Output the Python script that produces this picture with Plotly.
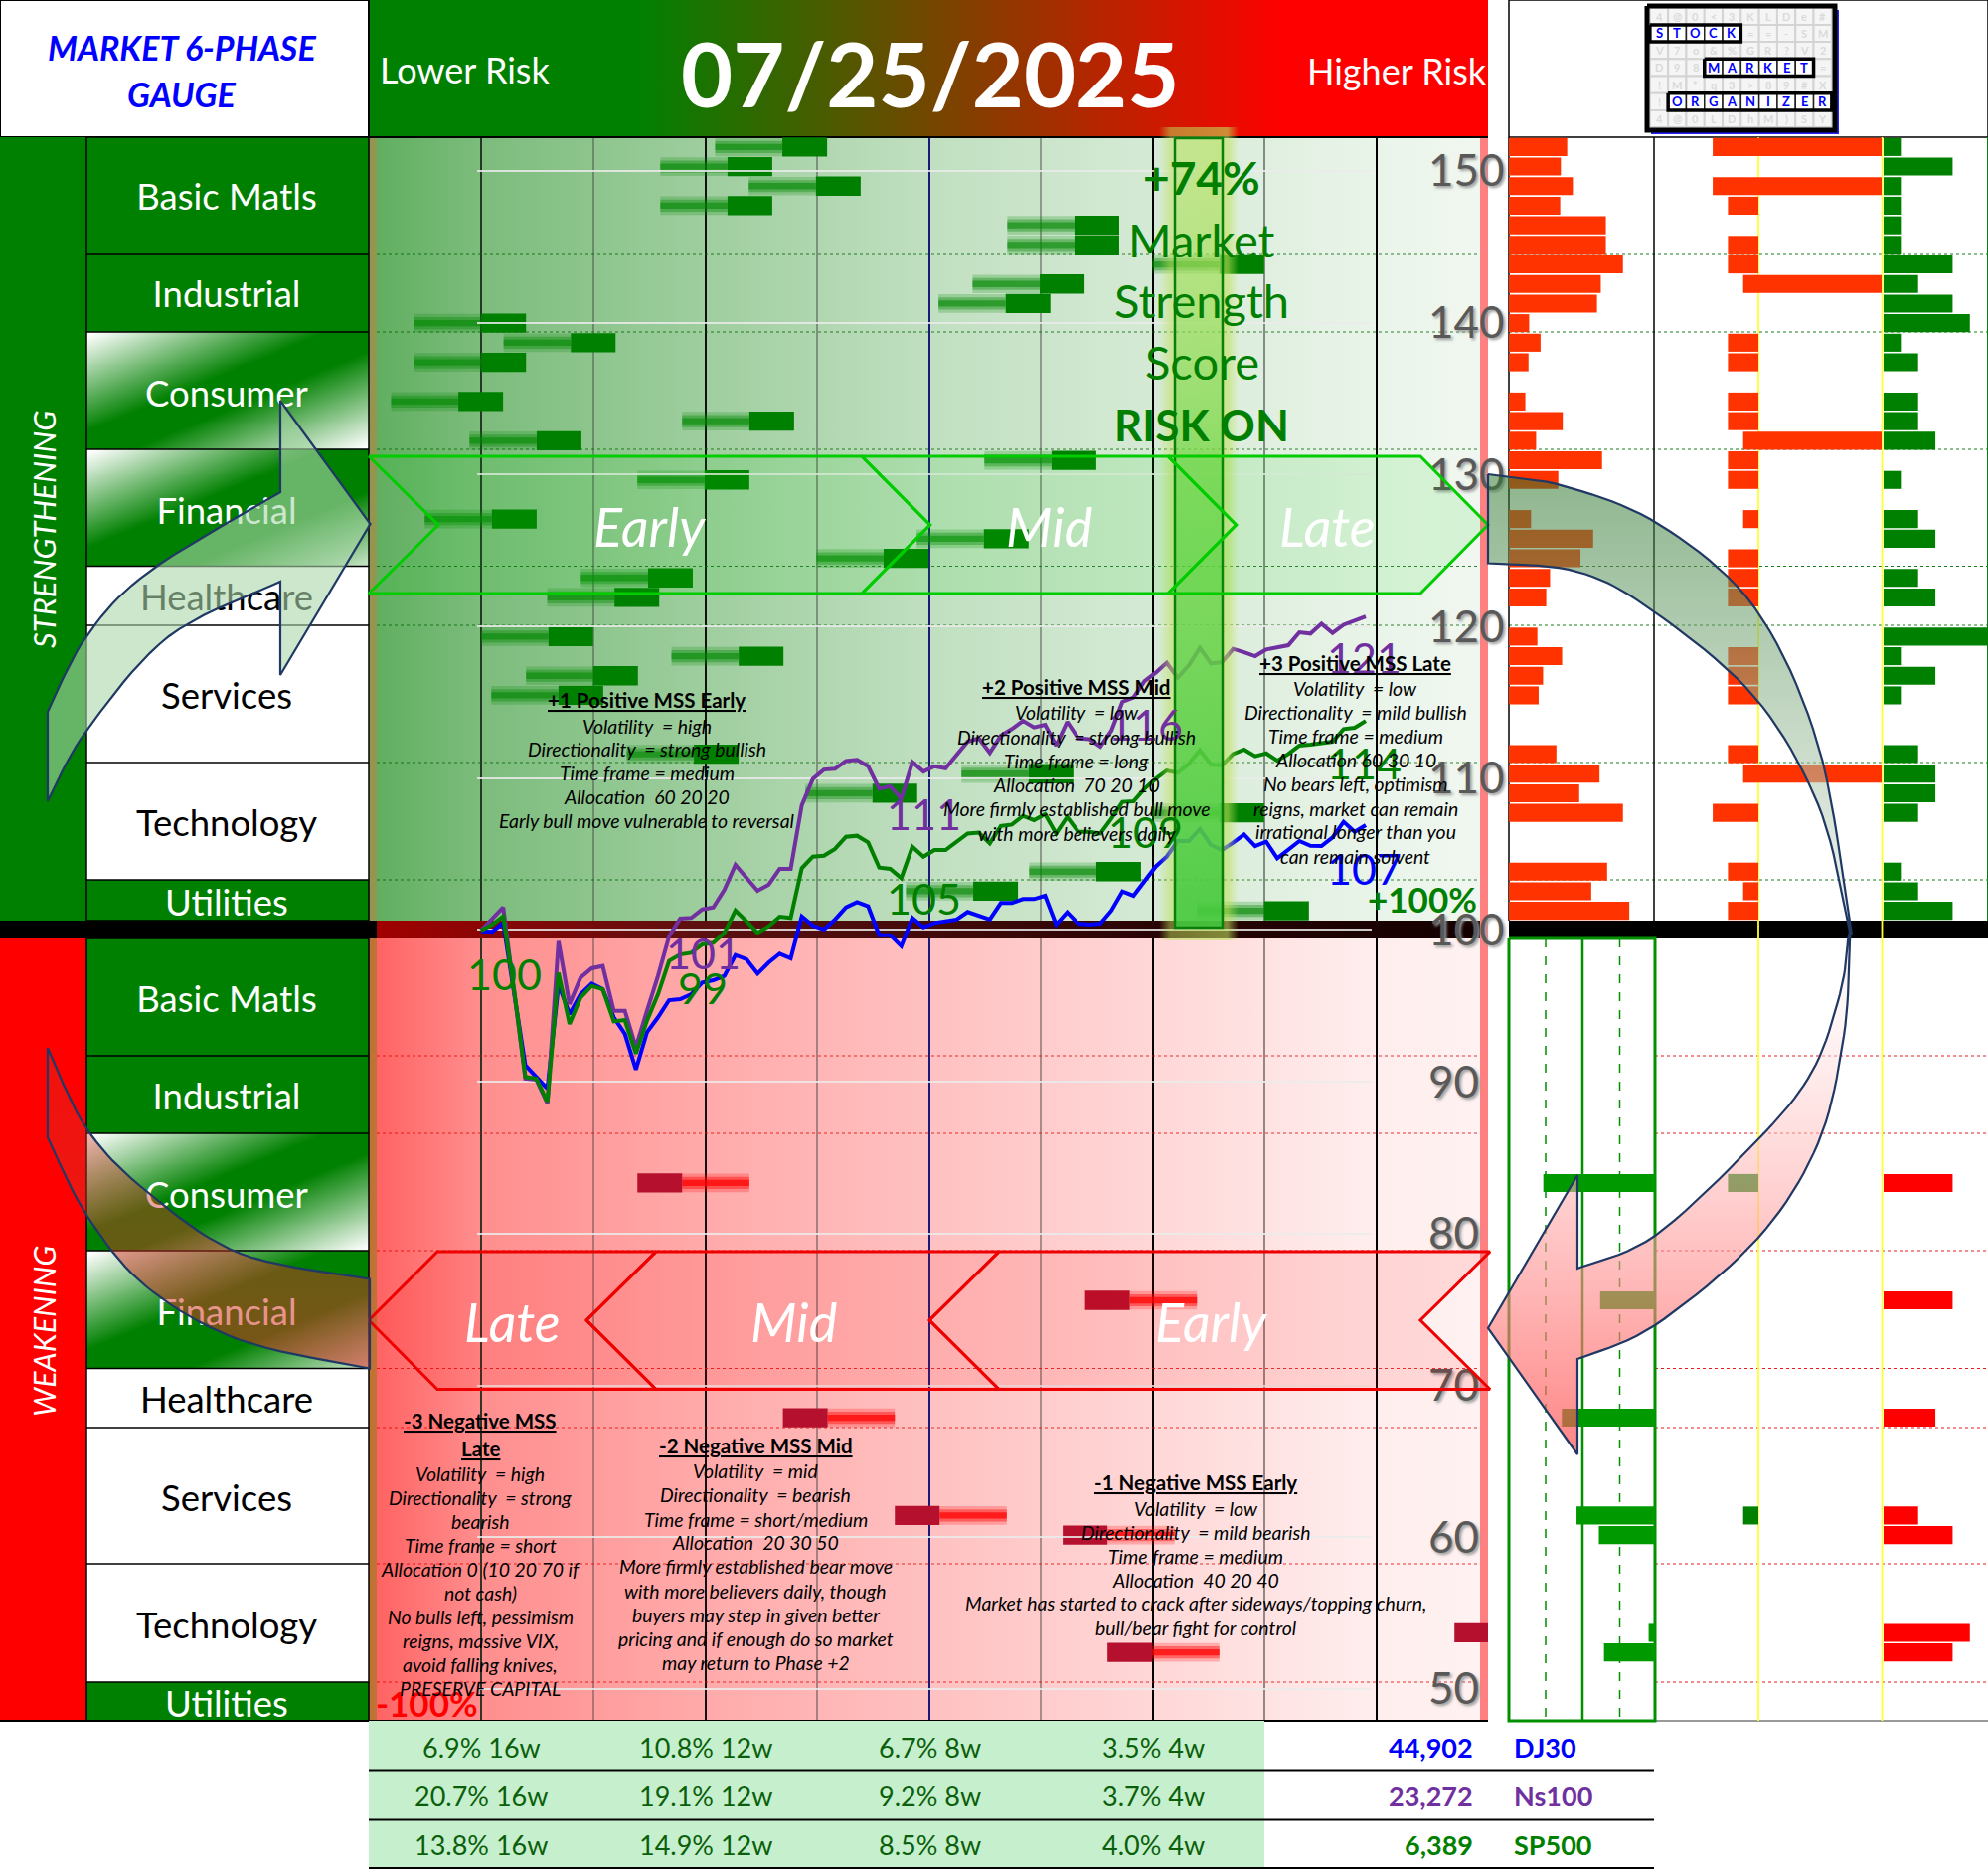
import numpy as np
import plotly.graph_objects as go

W, H = 2000, 1880
FONT = "Lato"

# ---------- line chart data ----------
dj30_values = [99.92,99.88,100.47,95.56,91.08,90.32,89.55,96.43,94.46,95.77,96.47,96.10,94.25,93.16,90.80,93.26,94.25,95.38,95.45,95.77,96.54,96.69,96.98,98.35,98.07,97.13,97.85,98.44,98.13,100.90,100.29,100.03,100.69,101.49,101.84,101.56,99.66,99.66,
98.94,100.80,100.18,100.47,100.58,100.69,101.19,100.95,100.69,101.78,101.78,102.04,102.04,102.26,100.36,101.17,100.42,100.36,100.42,101.28,102.54,102.26,103.20,104.18,104.83,105.86,105.86,106.65,105.60,105.27,105.75,106.30,105.53,105.82,104.73,105.27,105.86,105.55,105.53,106.10,107.13,106.47,106.91]
ns100_values = [99.97,100.75,101.49,95.88,90.21,90.14,88.57,99.27,95.12,96.87,97.48,97.63,94.68,94.68,92.28,94.68,96.98,99.59,100.75,100.80,101.36,101.49,102.65,104.29,103.41,102.59,102.98,104.03,104.03,108.22,109.96,110.57,110.62,111.14,111.21,110.79,109.31,109.48,
108.65,111.06,110.44,110.79,110.66,111.49,112.41,112.63,111.67,112.80,113.24,113.78,113.35,113.52,112.15,113.72,112.63,112.58,112.08,113.13,115.03,115.31,116.40,116.95,117.60,116.62,117.43,118.59,117.56,117.65,118.52,118.30,118.04,118.48,118.65,118.76,119.61,119.53,120.18,119.57,120.11,120.38,120.66]
sp500_values = [99.97,100.36,100.90,95.99,90.32,90.21,88.68,97.19,93.81,95.56,96.32,96.10,93.98,94.07,91.85,94.03,95.77,97.96,98.39,98.50,99.05,99.16,99.81,101.28,100.58,99.81,100.25,100.88,100.80,104.07,104.83,104.90,105.34,106.14,106.21,105.77,104.11,104.03,
103.42,105.49,104.83,105.27,105.27,105.82,106.36,106.41,105.71,106.86,106.95,107.52,107.24,107.63,106.36,107.45,106.47,106.47,106.36,107.34,108.44,108.48,109.31,109.96,110.51,110.36,110.95,111.86,110.90,110.84,111.60,111.89,111.45,111.64,111.16,111.60,112.15,112.21,112.30,112.41,113.24,113.33,113.78]
y_ticks = [150,140,130,120,110,100,90,80,70,60,50]

# ---------- sector panels ----------
sector_names = ["Basic Matls","Industrial","Consumer","Financial","Healthcare","Services","Technology","Utilities"]
# right end of each strengthening stock's block on the -100..+100 gauge, by row
strong_score = [-18.1,-27.9,-12.1,-27.9,34.1,34.1,60.0,27.9,21.8,-71.9,-55.9,-71.9,None,-76.0,-24.0,-62.0,30.0,-32.0,None,-70.0,17.9,0.0,-42.1,-48.1,None,-59.9,-25.9,-51.9,-58.1,None,None,-33.9,25.9,-2.0,60.0,None,None,38.0,16.0,68.0]
# left end of each weakening stock's block
weak_score = [None]*12+[-52.0]+[None]*5+[28.0]+[None]*5+[-26.0]+[None]*4+[-6.0,24.0]+[None]*4+[94.0,32.0]+[None]*3
p1_top = [92,82,101,81,153,153,180,145,139,32,50,31,None,26,85,43,147,78,None,35,133,113,65,59,None,45,84,54,47,None,None,75,143,111,180,None,None,155,130,190]
p1_bottom = [None]*12+[175]+[None]*5+[86]+[None]*5+[146]+[None]*4+[123,88]+[None]*4+[10,80]+[None]*3
colA_top = [3,None,3,2,None,2,2,1,None,None,2,2,None,2,2,1,2,2,None,1,None,2,2,2,None,None,2,2,2,None,None,2,1,None,3,None,None,2,1,2]
colA_bottom = [None]*12+[2]+[None]*16+[1]+[None]*10
colB_top = [1,None,1,None,None,None,None,1]+[None]*7+[1]+[None]*16+[1]+[None]*7
colC_top = [1,4,1,1,1,1,4,2,4,5,1,2,None,2,2,3,None,1,None,2,3,None,2,3,None,6.05,1,3,1,None,None,2,3,3,2,None,None,1,2,4]
colC_bottom = [None]*12+[4]+[None]*5+[4]+[None]*5+[3]+[None]*4+[2,4]+[None]*4+[5,4]+[None]*3

# ---------- table ----------
dj30_returns = ["6.9% 16w","10.8% 12w","6.7% 8w","3.5% 4w"]
ns100_returns = ["20.7% 16w","19.1% 12w","9.2% 8w","3.7% 4w"]
sp500_returns = ["13.8% 16w","14.9% 12w","8.5% 8w","4.0% 4w"]
index_prices = ["44,902","23,272","6,389"]
index_names = ["DJ30","Ns100","SP500"]

# ---------- logo letters ----------
logo_grid = ["4@0<3KLDe#", "     ==-SM", "V7o&%GR?V2", "D98      =", "!M*q3>89#X", "!         ", "4@0LDhM)SY"]
logo_words = {1: ("STOCK", 0), 3: ("MARKET", 3), 5: ("ORGANIZER", 1)}

BLUE, PURPLE, GREEN = "#0000FF", "#7030A0", "#007F00"

fig = go.Figure()
ann = []

def T(x, y, text, size=20, color="black", bold=False, italic=False, xa="center", ya="middle", family=FONT, shadow=None):
    f = dict(family=family, size=size, color=color, weight=700 if bold else 400, style="italic" if italic else "normal")
    if shadow:
        f["shadow"] = shadow
    ann.append(dict(x=x/W, y=1-y/H, xref="paper", yref="paper", text=text, showarrow=False, xanchor=xa, yanchor=ya, font=f, borderpad=0, borderwidth=0))

def poly(xs, ys, fill=None, grad=None, line=None, lw=0, ax="sheet", close=True):
    xa, ya = ("x", "y") if ax == "sheet" else ("x9", "y5")
    xs, ys = list(xs), list(ys)
    if close:
        xs, ys = xs+[xs[0]], ys+[ys[0]]
    kw = dict(x=xs, y=ys, mode="lines", xaxis=xa, yaxis=ya, hoverinfo="skip", showlegend=False,
              line=dict(color=line or "rgba(0,0,0,0)", width=lw))
    if grad:
        kw["fill"] = "toself"
        scale = grad[1]
        if grad[0] == "vertical":
            # the sheet's y axis runs downwards: stops are given top to bottom
            scale = [[1-p, c] for p, c in reversed(scale)]
        kw["fillgradient"] = dict(type=grad[0], colorscale=scale)
    elif fill:
        kw["fill"] = "toself"
        kw["fillcolor"] = fill
    fig.add_trace(go.Scatter(**kw))

def rect(x0, y0, x1, y1, **k):
    poly([x0, x1, x1, x0], [y0, y0, y1, y1], **k)

def seg(x0, y0, x1, y1, color="black", width=1, dash="solid", ax="sheet"):
    xa, ya = ("x", "y") if ax == "sheet" else ("x9", "y5")
    fig.add_trace(go.Scatter(x=[x0, x1], y=[y0, y1], mode="lines", xaxis=xa, yaxis=ya, hoverinfo="skip", showlegend=False,
                             line=dict(color=color, width=width, dash=dash)))

def sheet_text(x, y, text, size, color):
    fig.add_trace(go.Scatter(x=[x], y=[y], mode="text", text=[text], textposition="middle center", xaxis="x", yaxis="y",
                             hoverinfo="skip", showlegend=False, textfont=dict(family=FONT, size=size, color=color)))

def curve(pts, n=10):
    p = [pts[0]] + list(pts) + [pts[-1]]
    out = []
    for i in range(1, len(p)-2):
        p0, p1, p2, p3 = map(np.array, (p[i-1], p[i], p[i+1], p[i+2]))
        for t in np.linspace(0, 1, n, endpoint=False):
            out.append(0.5*((2*p1)+(-p0+p2)*t+(2*p0-5*p1+4*p2-p3)*t*t+(-p0+3*p1-3*p2+p3)*t**3))
    out.append(np.array(pts[-1]))
    return [float(a[0]) for a in out], [float(a[1]) for a in out]

def diag_cell(x0, y0, x1, y1, scale):
    xs = list(np.linspace(x0, x1, 41))
    ys = list(np.linspace(y0, y1, 41))
    u = np.linspace(0, 1, 40)
    z = [[(a+b)/2 for a in u] for b in u]
    fig.add_trace(go.Heatmap(x=xs, y=ys, z=z, zmin=0, zmax=1, colorscale=scale, showscale=False, zsmooth="best",
                             xaxis="x", yaxis="y", hoverinfo="skip"))

# ---------- sheet ----------
TOP, BOT = 138, 1731
BAND0, BAND1 = 926, 944
G = "#008000"
rect(371, 138, 1489, 926, grad=("horizontal", [[0, "#5FAE5F"], [0.1, "#7CBC7C"], [0.5, "#C0DFC0"], [0.9, "#E9F4E9"], [1, "#F0F7F0"]]))
rect(371, 944, 1489, 1731, grad=("horizontal", [[0, "#FF6060"], [0.1, "#FF8E8E"], [0.3, "#FFAAAA"], [0.5, "#FFC0C0"], [0.9, "#FFEDED"], [1, "#FFF2F2"]]))
rect(371, 138, 379, 926, fill="rgba(190,130,70,0.55)")
rect(371, 944, 379, 1731, fill="rgba(170,120,40,0.75)")
rect(1489, 138, 1497, 1731, fill="#FF8080")
rect(371, 0, 1497, 138, grad=("horizontal", [[0, G], [0.24, G], [0.82, "#FF0000"], [1, "#FF0000"]]))
rect(0, 0, 371, 138, fill="white", line="black", lw=2)
rect(0, 138, 87, 926, fill=G)
rect(0, 944, 87, 1731, fill="#FF0000")

edges_top = [138, 255, 334, 452, 569.5, 629, 767, 885, 926]
edges_bot = [944, 1062, 1140, 1258, 1376.5, 1436, 1573, 1692, 1731]
centers_top = [198, 295.5, 396, 514, 601, 700, 828, 908]
centers_bot = [1005, 1102.5, 1202, 1319.5, 1408, 1506.5, 1635, 1714]
scale_c = [[0, "#FFFFFF"], [0.42, G], [0.58, G], [1, "#FFFFFF"]]
scale_f = [[0, "#FFFFFF"], [0.42, G], [0.68, G], [1, "#C8E4C8"]]
for edges, centers in ((edges_top, centers_top), (edges_bot, centers_bot)):
    for i, name in enumerate(sector_names):
        a, b = edges[i], edges[i+1]
        if name == "Consumer":
            diag_cell(87, a, 371, b, scale_c)
        elif name == "Financial":
            diag_cell(87, a, 371, b, scale_f)
        elif name in ("Basic Matls", "Industrial", "Utilities"):
            rect(87, a, 371, b, fill=G)
        else:
            rect(87, a, 371, b, fill="white")
for edges, centers in ((edges_top, centers_top), (edges_bot, centers_bot)):
    for i, name in enumerate(sector_names):
        c = "black" if name in ("Healthcare", "Services", "Technology") else "white"
        sheet_text(228, centers[i]+4, name, 36.5, c)
        seg(87, edges[i], 371, edges[i], "black", 1.5)
    seg(87, edges[-1], 371, edges[-1], "black", 1.5)
    seg(87, edges[0], 87, edges[-1], "black", 1.5)
    seg(371, edges[0], 371, edges[-1], "black", 1.5)

# vertical guide lines of the gauge
vlines = [(484, "#1A2A1A", 1.8), (597, "rgba(60,60,60,0.55)", 1.5), (710, "#111111", 2), (822, "rgba(60,60,60,0.6)", 1.5),
          (935, "#1A1A7A", 2), (1047, "rgba(60,60,60,0.6)", 1.5), (1160, "black", 2), (1272, "rgba(50,50,50,0.7)", 1.5), (1385, "black", 2)]
for x, c, w in vlines:
    seg(x, TOP, x, BOT, c, w)
# row separators
for y in edges_top[1:-1]:
    seg(379, y, 1489, y, "rgba(0,100,0,0.8)", 1, "dot")
    seg(1518, y, 2000, y, "rgba(0,110,0,0.9)", 1, "dot")
for y in edges_bot[1:-1]:
    seg(379, y, 1489, y, "rgba(230,0,0,0.8)", 1, "dot")
    seg(1665, y, 2000, y, "rgba(230,0,0,0.9)", 1, "dot")
# centre band
rect(0, BAND0, 379, BAND1, fill="black")
rect(379, BAND0, 1489, BAND1, grad=("horizontal", [[0, "#A00000"], [0.3, "#5C1010"], [0.7, "#2A0404"], [1, "#140000"]]))
rect(1518, BAND0, 2000, BAND1, fill="black")
# frames
seg(371, TOP, 1497, TOP, "black", 2)
seg(371, BOT, 1497, BOT, "black", 2)
seg(0, BOT, 371, BOT, "black", 2)
rect(1518, 0, 2000, TOP, fill="white", line="black", lw=1.5)
seg(1518, TOP, 1518, BAND0, "black", 1.5)
seg(1664, TOP, 1664, BAND0, "black", 1.5)
seg(2000, TOP, 2000, BAND0, "#008000", 2)
seg(1665, BOT, 2000, BOT, "#999999", 2)
for x in (1769, 1893.5):
    seg(x, TOP, x, BOT, "#FFFF33", 1.8)
seg(1555, BAND1, 1555, BOT, "#009000", 1.5, "dash")
seg(1629.5, BAND1, 1629.5, BOT, "#009000", 1.5, "dash")
seg(1592, BAND1, 1592, BOT, "#009000", 2.5)
rect(1518, BAND1, 1665, BOT, line="#009000", lw=3)

# table backgrounds
for y0, y1 in ((1731, 1780), (1781, 1830), (1831, 1879)):
    rect(371, y0, 1272, y1, fill="#C6EFCE")
for y in (1780.5, 1830.5, 1879):
    seg(371, y, 1664, y, "black", 2)

# logo
cell_w, cell_h, lx0, ly0 = 18.3, 17.2, 1669, 16.3
rect(1661, 10, 1850, 135, fill="#2222FF")
rect(1657, 6, 1846, 131, fill="white")
for r, row in enumerate(logo_grid):
    for c, ch in enumerate(row):
        cx, cy = lx0+c*cell_w, ly0+r*cell_h
        rect(cx-cell_w/2, cy-cell_h/2, cx+cell_w/2, cy+cell_h/2, fill="#F5F5F5", line="#D4D4D4", lw=2)
        if ch != " ":
            T(cx, cy, ch, 11, "#DADADA", True)
for r, (word, c0) in logo_words.items():
    cy = ly0+r*cell_h
    for j, ch in enumerate(word):
        cx = lx0+(c0+j)*cell_w
        rect(cx-cell_w/2, cy-cell_h/2, cx+cell_w/2, cy+cell_h/2, fill="white", line="#222222", lw=1.5)
        T(cx, cy, ch, 13, "#0000FF", True)
    x0 = lx0+c0*cell_w-cell_w/2
    rect(x0, cy-cell_h/2, x0+len(word)*cell_w, cy+cell_h/2, line="black", lw=3.5)
rect(1657, 6, 1846, 131, line="black", lw=5)

# ---------- gauge blocks ----------
rows = list(range(40))
def row_bar(xa, ya, vals, color, base=None, width=0.92):
    yy = [r for r, v in zip(rows, vals) if v is not None]
    xx = [v for v in vals if v is not None]
    kw = {}
    if base is not None:
        kw["base"] = [b for b, v in zip(base, vals) if v is not None]
    fig.add_trace(go.Bar(x=xx, y=yy, orientation="h", xaxis=xa, yaxis=ya, width=width, hoverinfo="skip", showlegend=False,
                         marker=dict(color=color, line=dict(width=0)), **kw))

SOLID, TAIL = 8, 12
s_vals = [v if v is None else TAIL for v in strong_score]
s_base = [None if v is None else v-SOLID-TAIL for v in strong_score]
for a, w in ((0.22, 0.95), (0.35, 0.62), (0.55, 0.32)):
    row_bar("x2", "y2", s_vals, f"rgba(0,135,0,{a})", s_base, w)
row_bar("x2", "y2", [v if v is None else SOLID for v in strong_score], G, [None if v is None else v-SOLID for v in strong_score], 0.98)
w_vals = [v if v is None else TAIL for v in weak_score]
w_base = [None if v is None else v+SOLID for v in weak_score]
for a, w in ((0.22, 0.95), (0.4, 0.62), (0.7, 0.32)):
    row_bar("x2", "y3", w_vals, f"rgba(255,0,0,{a})", w_base, w)
row_bar("x2", "y3", [v if v is None else SOLID for v in weak_score], "#B5102E", weak_score, 0.98)

# ---------- lines ----------
idx = list(range(len(dj30_values)))
for name, vals, c in (("DJ30", dj30_values, BLUE), ("Ns100", ns100_values, PURPLE), ("SP500", sp500_values, GREEN)):
    fig.add_trace(go.Scatter(x=idx, y=vals, name=name, mode="lines", xaxis="x3", yaxis="y4", showlegend=False,
                             line=dict(color=c, width=4), hoverinfo="skip"))

# ---------- right panels ----------
ORANGE = "#FF3300"
row_bar("x4", "y2", p1_top, ORANGE)
row_bar("x5", "y3", p1_bottom, "#009900")
row_bar("x6", "y2", colA_top, ORANGE)
row_bar("x6", "y3", colA_bottom, "#008000")
row_bar("x7", "y2", colB_top, ORANGE)
row_bar("x8", "y2", colC_top, "#008000")
row_bar("x8", "y3", colC_bottom, "#FF0000")

# ---------- overlay: highlight ----------
poly([1166, 1246, 1246, 1166], [128, 128, 946, 946],
     grad=("horizontal", [[0, "rgba(190,225,90,0)"], [0.14, "rgba(190,225,90,0.5)"], [0.86, "rgba(190,225,90,0.6)"], [1, "rgba(190,225,90,0)"]]), ax="over")
poly([1182, 1230, 1230, 1182], [139, 139, 933, 933],
     grad=("vertical", [[0, "rgba(150,225,100,0.12)"], [0.4, "rgba(80,210,60,0.5)"], [1, "rgba(60,200,60,0.85)"]]), line="#0A800A", lw=2.5, ax="over")

# ---------- overlay: phase chevrons ----------
GL, RL = "#00CC00", "#EE0000"
t, m, b = 459, 528, 597
for pts in ([(371, t), (867, t), (935.6, m), (867, b), (371, b), (441, m)],
            [(867, t), (1175, t), (1243.6, m), (1175, b), (867, b), (935.6, m)],
            [(1175, t), (1429, t), (1497, m), (1429, b), (1175, b), (1243.6, m)]):
    poly([p[0] for p in pts], [p[1] for p in pts], fill="rgba(0,204,0,0.1)", line=GL, lw=3, ax="over")
t, m, b = 1259, 1328, 1397.5
for pts in ([(371, m), (440, t), (660, t), (590, m), (660, b), (440, b)],
            [(590, m), (660, t), (1005, t), (935, m), (1005, b), (660, b)],
            [(935, m), (1005, t), (1499, t), (1429, m), (1499, b), (1005, b)]):
    poly([p[0] for p in pts], [p[1] for p in pts], fill="rgba(255,0,0,0.1)", line=RL, lw=3, ax="over")

# ---------- overlay: arrows ----------
ox, oy = curve([(48, 716), (87, 640), (150, 575), (282, 495)])
ix, iy = curve([(282, 585), (170, 640), (87, 735), (48, 806)])
xs = ox + [282, 372.5, 282] + ix
ys = oy + [403, 527, 679] + iy
poly(xs, ys, fill="rgba(170,215,170,0.6)", line="#1F3864", lw=2.2, ax="over")

ox, oy = curve([(1497, 477), (1574, 489), (1670, 528), (1765, 611), (1829, 749), (1860, 923), (1861, 946), (1855, 1042), (1829, 1150), (1768, 1246), (1665, 1333), (1587, 1367)])
ix, iy = curve([(1587, 1276), (1665, 1243), (1768, 1147), (1823, 1078), (1851, 1000), (1859, 946), (1858, 923), (1829, 809), (1765, 701), (1663, 614.5), (1587, 575), (1497, 566.5)])
xs = ox + [1587, 1497, 1587] + ix
ys = oy + [1463, 1336, 1182] + iy
poly(xs, ys, grad=("vertical", [[0, "rgba(49,121,49,0.55)"], [0.47, "rgba(235,238,235,0.55)"], [0.55, "rgba(255,238,238,0.5)"], [1, "rgba(255,80,80,0.7)"]]), line="#1F3864", lw=2.2, ax="over")

ox, oy = curve([(48, 1054), (87, 1135), (147, 1198), (242, 1261), (372, 1286.5)])
ix, iy = curve([(372, 1376.5), (242, 1348), (147, 1294), (87, 1222), (48, 1144)])
poly(ox+ix, oy+iy, grad=("vertical", [[0, "rgba(214,52,40,0.3)"], [1, "rgba(214,52,40,0.58)"]]), line="#1F3864", lw=2.2, ax="over")

# ---------- text ----------
T(183, 47, "MARKET 6-PHASE", 34, "#0000FF", True, True)
T(183, 94, "GAUGE", 34, "#0000FF", True, True)
T(382, 70, "Lower Risk", 36, "white", xa="left")
T(1496, 71, "Higher Risk", 36, "white", xa="right")
T(935, 73, "07/25/2025", 90, "white", True)
T(44, 533, "STRENGTHENING", 31, "white", italic=True)
ann[-1]["textangle"] = -90
T(44, 1339, "WEAKENING", 30.5, "white", italic=True)
ann[-1]["textangle"] = -90

for txt, x, y in (("Early", 653, 529), ("Mid", 1055, 529), ("Late", 1335, 529), ("Late", 515, 1329), ("Mid", 798, 1329), ("Early", 1218, 1329)):
    T(x, y, txt, 54, "white", italic=True)

T(1209, 179, "+74%", 46, "#007F00", True)
T(1209, 241, "Market", 47, "#007F00")
T(1209, 302, "Strength", 47, "#007F00")
T(1209, 364, "Score", 47, "#007F00")
T(1209, 427, "RISK ON", 44, "#007F00", True)

for x, y, txt, c in ((1372, 662, "121", PURPLE), (1372, 768, "114", GREEN), (1372, 873, "107", BLUE),
                     (1152, 728, "116", PURPLE), (1152, 837, "109", GREEN), (929, 818, "111", PURPLE), (929, 903, "105", GREEN),
                     (707, 958, "101", PURPLE), (707, 993, "99", GREEN), (507, 979, "100", GREEN)):
    T(x, y, txt, 43, c)
T(1431, 904, "+100%", 35, "#007F00", True)
T(429, 1713, "-100%", 35, "#FF0000", True)

def block(cx, title_lines, body, ys):
    k = 0
    for s in title_lines:
        T(cx, ys[k], f"<u>{s}</u>", 20.5, "black", True)
        k += 1
    for s in body:
        T(cx, ys[k], s, 19.4, "black", italic=True)
        k += 1

block(650.5, ["+1 Positive MSS Early"], ["Volatility  = high", "Directionality  = strong bullish", "Time frame = medium", "Allocation  60 20 20", "Early bull move vulnerable to reversal"],
      [704, 730, 753.6, 777.6, 801.5, 825.5])
block(1083, ["+2 Positive MSS Mid"], ["Volatility  = low", "Directionality  = strong bullish", "Time frame = long", "Allocation  70 20 10", "More firmly established bull move", "with more believers daily"],
      [691, 717, 741, 765, 789, 813, 838])
block(1363.5, ["+3 Positive MSS Late"], ["Volatility  = low", "Directionality  = mild bullish", "Time frame = medium", "Allocation 60 30 10", "No bears left, optimism", "reigns, market can remain", "irrational longer than you", "can remain solvent"],
      [667, 692.5, 716.4, 740.4, 764, 788, 813, 837, 861])
block(483, ["-3 Negative MSS", "Late"], ["Volatility  = high", "Directionality  = strong", "bearish", "Time frame = short", "Allocation 0 (10 20 70 if", "not cash)", "No bulls left, pessimism", "reigns, massive VIX,", "avoid falling knives,", "PRESERVE CAPITAL"],
      [1428.6, 1457, 1482, 1506, 1530, 1554, 1578.5, 1602.5, 1626.5, 1650.5, 1674, 1698])
block(760, ["-2 Negative MSS Mid"], ["Volatility  = mid", "Directionality  = bearish", "Time frame = short/medium", "Allocation  20 30 50", "More firmly established bear move", "with more believers daily, though", "buyers may step in given better", "pricing and if enough do so market", "may return to Phase +2"],
      [1454, 1479.6, 1503.6, 1528, 1551.5, 1575.5, 1600, 1624, 1648, 1672])
block(1203, ["-1 Negative MSS Early"], ["Volatility  = low", "Directionality  = mild bearish", "Time frame = medium", "Allocation  40 20 40", "Market has started to crack after sideways/topping churn,", "bull/bear fight for control"],
      [1491, 1517, 1541, 1565, 1589, 1612.7, 1637])

TABLE_GREEN = "#0B5F0B"
for y, row in zip((1757, 1806.5, 1855), (dj30_returns, ns100_returns, sp500_returns)):
    for x, s in zip((484, 710, 935, 1160), row):
        T(x, y, s, 27, TABLE_GREEN)
for y, p, n, c in zip((1757, 1806.5, 1855), index_prices, index_names, (BLUE, PURPLE, GREEN)):
    T(1482, y, p, 27, c, True, xa="right")
    T(1523, y, n, 27, c, True, xa="left")

# ---------- layout ----------
def dx(a, b): return [a/W, b/W]
def dy(top, bot): return [1-bot/H, 1-top/H]
hide = dict(visible=False, fixedrange=True)
CH_T, CH_B = 152.23, 47.9
layout = dict(
    width=W, height=H, margin=dict(l=0, r=0, t=0, b=0, pad=0), paper_bgcolor="white", plot_bgcolor="rgba(0,0,0,0)",
    barmode="overlay", showlegend=False, annotations=ann,
    xaxis=dict(domain=[0, 1], range=[0, W], anchor="y", **hide),
    yaxis=dict(domain=[0, 1], range=[H, 0], anchor="x", **hide),
    xaxis2=dict(domain=dx(371, 1497), range=[-100, 100], anchor="y2", **hide),
    yaxis2=dict(domain=dy(138, 926), range=[39.5, -0.5], anchor="x2", **hide),
    yaxis3=dict(domain=dy(944, 1731), range=[39.5, -0.5], anchor="x2", **hide),
    xaxis3=dict(domain=dx(480, 1380), range=[-0.36, 80.54], anchor="y4", **hide),
    yaxis4=dict(domain=dy(138, 1731), range=[CH_B, CH_T], anchor="free", position=1436/W, side="right",
                tickmode="array", tickvals=y_ticks, ticks="", showline=False, zeroline=False, showgrid=True,
                gridcolor="rgba(235,235,235,0.85)", gridwidth=1.5, fixedrange=True, ticklabelstandoff=0,
                tickfont=dict(family=FONT, size=44, color="#595959", shadow="2px 2px 3px #9a9a9a")),
    xaxis4=dict(domain=dx(1518, 1664), range=[0, 229], anchor="y2", **hide),
    xaxis5=dict(domain=dx(1518, 1665), range=[229, 0], anchor="y3", **hide),
    xaxis6=dict(domain=dx(1664, 1769), range=[6.86, 0], anchor="y2", **hide),
    xaxis7=dict(domain=dx(1769, 1893), range=[0, 1], anchor="y2", **hide),
    xaxis8=dict(domain=dx(1895, 2000), range=[0, 6.05], anchor="y2", **hide),
    xaxis9=dict(domain=[0, 1], range=[0, W], anchor="y5", **hide),
    yaxis5=dict(domain=[0, 1], range=[H, 0], anchor="x9", **hide),
)
fig.update_layout(**layout)
fig.write_html("out.html", config=dict(displayModeBar=False, responsive=False),
               post_script="document.body.style.margin='0';document.body.style.overflow='hidden';")
